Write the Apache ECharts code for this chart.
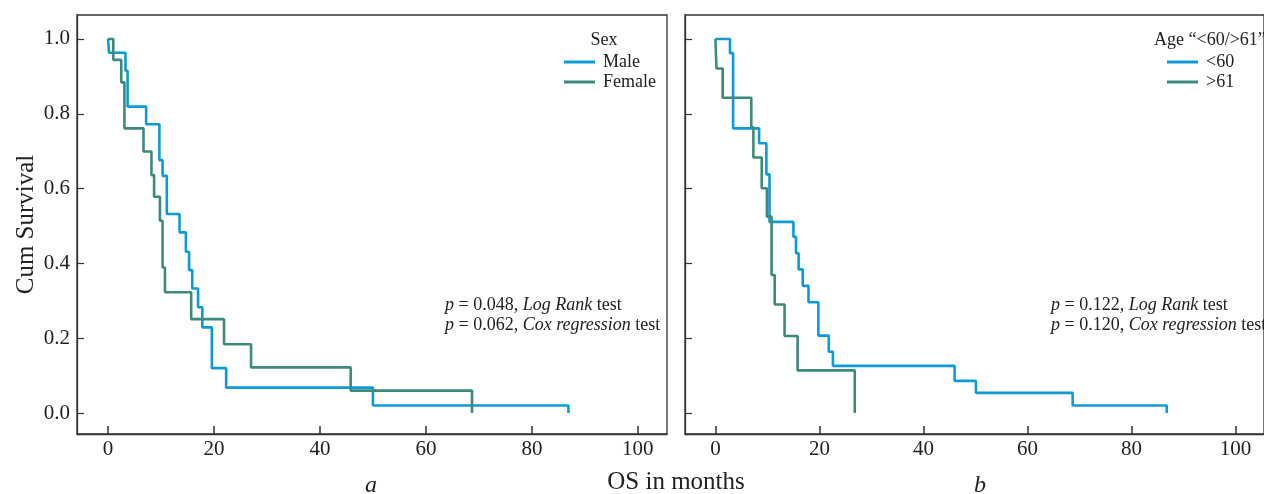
<!DOCTYPE html>
<html lang="en">
<head>
    <meta charset="UTF-8">
    <title>Kaplan-Meier OS curves</title>
    <script src="https://cdn.jsdelivr.net/npm/echarts@6/dist/echarts.min.js"></script>
    <style>
        html, body { margin: 0; padding: 0; background: #fff; }
    </style>
</head>
<body>
    <div id="main" style="width: 1264px; height: 494px;"></div>
    <script>
        // panel a: sex
        var maleX = [0, 0.2, 3.3, 3.7, 7.2, 9.7, 10.3, 11.1, 13.5, 14.7, 15.3, 15.9, 17.0, 17.8, 19.6, 22.3, 50.0, 86.9];
        var maleY = [1.0, 0.963, 0.915, 0.819, 0.772, 0.676, 0.634, 0.532, 0.483, 0.431, 0.382, 0.333, 0.283, 0.229, 0.120, 0.068, 0.020, 0.0];
        var femaleX = [0, 1.0, 2.5, 3.1, 6.7, 8.2, 8.7, 9.8, 10.3, 10.75, 15.7, 21.9, 27.0, 45.8, 68.7];
        var femaleY = [1.0, 0.944, 0.884, 0.761, 0.699, 0.636, 0.578, 0.514, 0.389, 0.323, 0.251, 0.184, 0.122, 0.060, 0.0];

        // panel b: age
        var youngX = [0, 2.8, 3.4, 8.4, 9.8, 10.4, 15.0, 15.5, 16.0, 16.8, 17.9, 19.8, 21.8, 22.6, 46.0, 50.1, 68.7, 86.8];
        var youngY = [1.0, 0.962, 0.761, 0.721, 0.638, 0.511, 0.471, 0.427, 0.384, 0.340, 0.296, 0.207, 0.164, 0.126, 0.086, 0.054, 0.020, 0.0];
        var oldX = [0, 0.2, 1.4, 6.9, 7.3, 8.9, 9.9, 10.8, 11.4, 13.3, 15.8, 26.8];
        var oldY = [1.0, 0.921, 0.843, 0.764, 0.683, 0.601, 0.525, 0.369, 0.290, 0.206, 0.114, 0.0];

        var xTicks = [0, 20, 40, 60, 80, 100];
        var yTicks = [0, 0.2, 0.4, 0.6, 0.8, 1.0];

        var blue = '#0d9ad8';
        var green = '#3c8a79';
        var serif = '"Liberation Serif", "DejaVu Serif", serif';

        function pairs(xs, ys) {
            return xs.map(function (x, i) { return [x, ys[i]]; });
        }

        // labelled x axis (no ticks)
        function xLabelAxis(idx) {
            return {
                type: 'value', gridIndex: idx, min: -5.85, max: 105.5,
                axisLine: { show: true, onZero: false, lineStyle: { color: '#333', width: 1.3 } },
                splitLine: { show: false },
                axisTick: { show: false },
                axisLabel: { customValues: xTicks, color: '#222', fontFamily: serif, fontSize: 21, margin: 5 }
            };
        }

        // tick-only x axis on the same grid
        function xTickAxis(idx, color, width, len) {
            return {
                type: 'value', gridIndex: idx, min: -5.85, max: 105.5, position: 'bottom', offset: 0,
                axisLine: { show: false, onZero: false },
                splitLine: { show: false },
                axisTick: { show: true, inside: true, length: len, customValues: xTicks, lineStyle: { color: color, width: width } },
                axisLabel: { show: false }
            };
        }

        function yAxisFor(idx, labels) {
            return {
                type: 'value', gridIndex: idx, min: -0.056, max: 1.064,
                axisLine: { show: true, onZero: false, lineStyle: { color: '#333', width: 1.3 } },
                splitLine: { show: false },
                axisTick: { show: true, inside: true, length: 7, customValues: yTicks, lineStyle: { color: '#333', width: 1.2 } },
                axisLabel: {
                    show: labels, customValues: yTicks, color: '#222', fontFamily: serif, fontSize: 21, margin: 7,
                    formatter: function (v) { return v.toFixed(1); }
                },
                name: labels ? 'Cum Survival' : '',
                nameLocation: 'middle', nameGap: 38, nameRotate: 90,
                nameTextStyle: { color: '#222', fontFamily: serif, fontSize: 25 }
            };
        }

        function km(name, xs, ys, color, idx) {
            return {
                name: name, type: 'line', step: 'end',
                xAxisIndex: idx, yAxisIndex: idx,
                data: pairs(xs, ys),
                showSymbol: false, symbol: 'none',
                lineStyle: { color: color, width: 2.6 },
                itemStyle: { color: color }
            };
        }

        var rich = {
            i: { fontStyle: 'italic', fontFamily: serif, fontSize: 18, fill: '#222' }
        };

        function note(text, x, y) {
            return {
                type: 'text', x: x, y: y,
                style: { text: text, fill: '#222', font: '18px ' + serif, align: 'left', verticalAlign: 'middle', rich: rich }
            };
        }

        function legendFor(names, left) {
            return {
                data: names, orient: 'vertical', left: left, top: 53, padding: 0,
                icon: 'rect', itemWidth: 31, itemHeight: 3, itemGap: 2,
                textStyle: { fontFamily: serif, fontSize: 18, color: '#222', padding: [0, 0, 0, 3] }
            };
        }

        var chart = echarts.init(document.getElementById('main'));
        chart.setOption({
            animation: false,
            grid: [
                { left: 77, top: 15, width: 590, height: 419, show: true, borderColor: '#333', borderWidth: 1.3 },
                { left: 685, top: 15, width: 590, height: 419, show: true, borderColor: '#333', borderWidth: 1.3 }
            ],
            xAxis: [xLabelAxis(0), xLabelAxis(1), xTickAxis(0, '#333', 1.5, 8), xTickAxis(1, '#333', 1.5, 8)],
            yAxis: [yAxisFor(0, true), yAxisFor(1, false)],
            legend: [legendFor(['Male', 'Female'], 564), legendFor(['<60', '>61'], 1167)],
            graphic: [
                { type: 'text', x: 604, y: 40, style: { text: 'Sex', font: '18px ' + serif, fill: '#222', align: 'center', verticalAlign: 'middle' } },
                { type: 'text', x: 1154, y: 40, style: { text: 'Age \u201c<60/>61\u201d', font: '18px ' + serif, fill: '#222', align: 'left', verticalAlign: 'middle' } },
                note('{i|p} = 0.048, {i|Log Rank} test', 445, 305),
                note('{i|p} = 0.062, {i|Cox regression} test', 445, 325),
                note('{i|p} = 0.122, {i|Log Rank} test', 1051, 305),
                note('{i|p} = 0.120, {i|Cox regression} test', 1051, 325),
                { type: 'text', x: 676, y: 482, style: { text: 'OS in months', font: '25px ' + serif, fill: '#222', align: 'center', verticalAlign: 'middle' } },
                { type: 'text', x: 371, y: 486, style: { text: 'a', font: 'italic 24px ' + serif, fill: '#222', align: 'center', verticalAlign: 'middle' } },
                { type: 'text', x: 980, y: 486, style: { text: 'b', font: 'italic 24px ' + serif, fill: '#222', align: 'center', verticalAlign: 'middle' } }
            ],
            series: [
                km('Male', maleX, maleY, blue, 0),
                km('Female', femaleX, femaleY, green, 0),
                km('<60', youngX, youngY, blue, 1),
                km('>61', oldX, oldY, green, 1)
            ]
        });
    </script>
</body>
</html>
